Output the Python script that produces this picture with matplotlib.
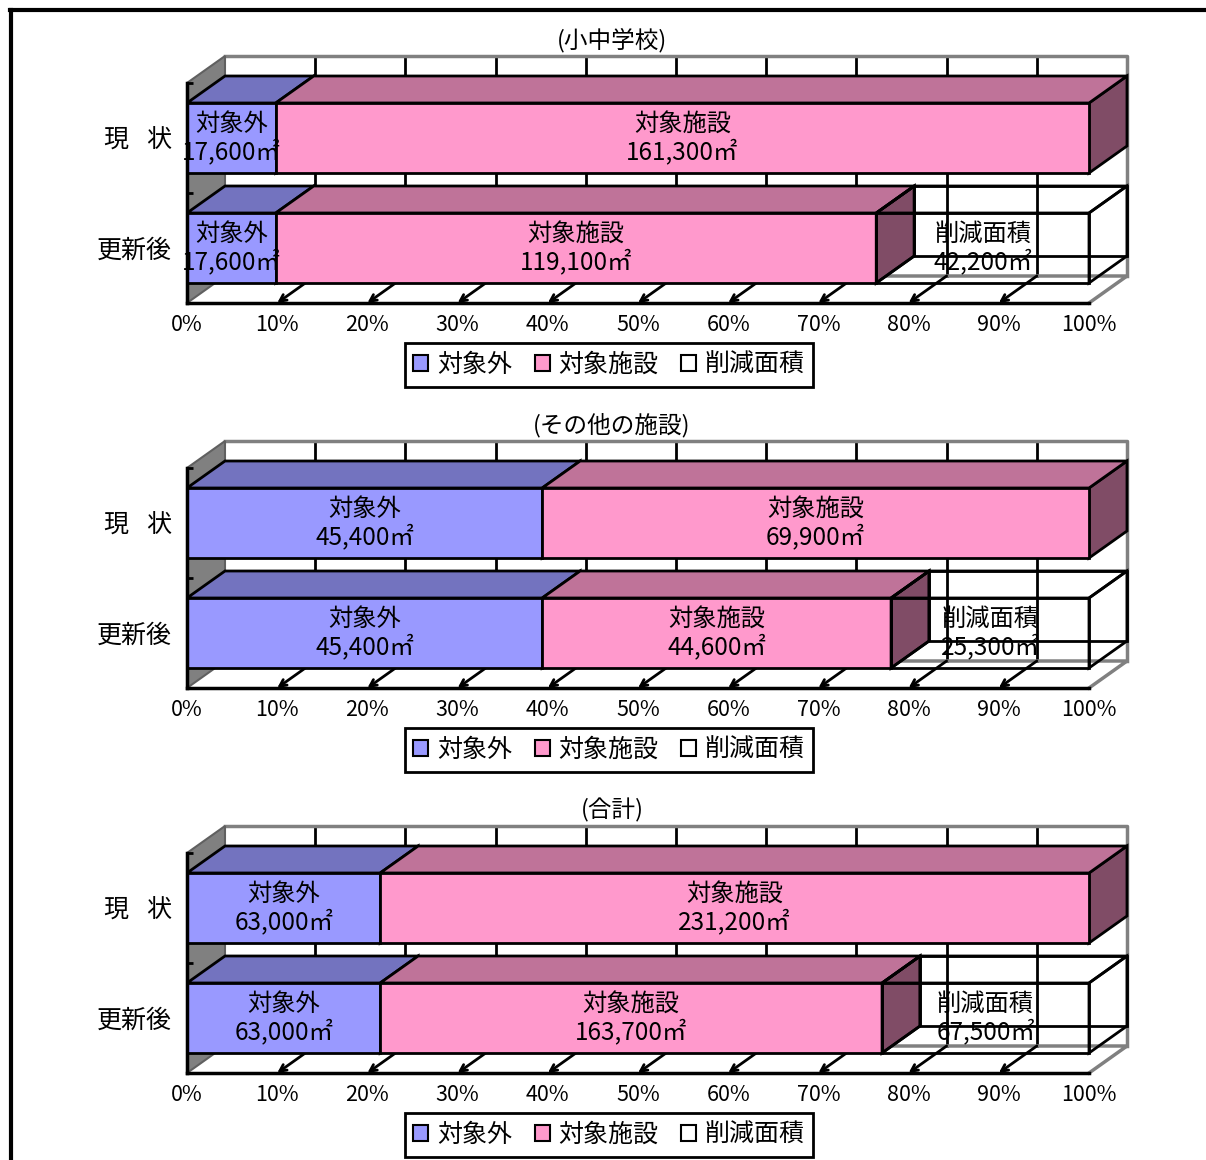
import matplotlib
matplotlib.use('Agg')
import matplotlib.pyplot as plt
from matplotlib.patches import Polygon, Patch
from matplotlib.lines import Line2D

plt.rcParams['font.family'] = ['Noto Sans CJK JP', 'DejaVu Sans']

# data (m2)
titles = ['(小中学校)', '(その他の施設)', '(合計)']
categories = ['更新後', '現\u2002 状']          # bottom -> top
series = ['対象外', '対象施設', '削減面積']
school_now = [17600, 161300, 0]
school_after = [17600, 119100, 42200]
other_now = [45400, 69900, 0]
other_after = [45400, 44600, 25300]
total_now = [63000, 231200, 0]
total_after = [63000, 163700, 67500]
panels = [(school_after, school_now), (other_after, other_now), (total_after, total_now)]
ticks = [0, 10, 20, 30, 40, 50, 60, 70, 80, 90, 100]
tick_labels = [f'{t}%' for t in ticks]

front_colors = ['#9999FF', '#FF99CC', 'none']
top_colors = ['#7373BF', '#BF7399', 'none']
side_colors = ['#5C5C99', '#804C66', 'none']
legend_colors = ['#9999FF', '#FF99CC', 'white']

W, H = 1206, 1160
DX = 38 / 902 * 100      # depth offset in % units
DY = 27 / 110            # depth offset in category units
HH = 35 / 110            # half bar height

fig = plt.figure(figsize=(W / 100, H / 100), dpi=100)

# outer frame
fig.add_artist(Line2D([10 / W, 1], [1 - 10 / H, 1 - 10 / H], color='black', lw=3, transform=fig.transFigure))
fig.add_artist(Line2D([11 / W, 11 / W], [1 - 10 / H, 0], color='black', lw=3, transform=fig.transFigure))


def poly(ax, pts, fc, z, ec='black', lw=2):
    ax.add_patch(Polygon(pts, closed=True, facecolor=fc, edgecolor=ec, lw=lw,
                         zorder=z, clip_on=False, joinstyle='miter'))


def box(ax, x0, x1, yc, k, z):
    y0, y1 = yc - HH, yc + HH
    top = [(x0, y1), (x1, y1), (x1 + DX, y1 + DY), (x0 + DX, y1 + DY)]
    front = [(x0, y0), (x1, y0), (x1, y1), (x0, y1)]
    side = [(x1, y0), (x1, y1), (x1 + DX, y1 + DY), (x1 + DX, y0 + DY)]
    if front_colors[k] == 'none':
        back = [(x0 + DX, y0 + DY), (x1 + DX, y0 + DY), (x1 + DX, y1 + DY), (x0 + DX, y1 + DY)]
        left = [(x0, y0), (x0, y1), (x0 + DX, y1 + DY), (x0 + DX, y0 + DY)]
        for f in (back, left, top, front, side):
            poly(ax, f, 'none', z)
    else:
        poly(ax, side, side_colors[k], z)
        poly(ax, top, top_colors[k], z + 0.1)
        poly(ax, front, front_colors[k], z + 0.2)


for i, (after, now) in enumerate(panels):
    oy = 385 * i
    ax = fig.add_axes([187 / W, 1 - (303 + oy) / H, 902 / W, 220 / H])
    ax.set_xlim(0, 100)
    ax.set_ylim(-0.5, 1.5)
    ax.patch.set_visible(False)

    fl = -0.5
    wt = 1.5
    # back wall
    poly(ax, [(DX, fl + DY), (100 + DX, fl + DY), (100 + DX, wt + DY), (DX, wt + DY)], 'white', 0.5, ec='none')
    for t in ticks[1:-1]:
        ax.plot([t + DX, t + DX], [fl + DY, wt + DY], color='black', lw=2, zorder=1, clip_on=False)
    ax.plot([DX, 100 + DX, 100 + DX], [wt + DY, wt + DY, fl + DY], color='#808080', lw=2.5, zorder=1, clip_on=False)
    # left side wall
    poly(ax, [(0, fl), (0, wt), (DX, wt + DY), (DX, fl + DY)], '#808080', 1, ec='#606060', lw=1.5)
    # floor
    poly(ax, [(0, fl), (100, fl), (100 + DX, fl + DY), (DX, fl + DY)], 'white', 0.6, ec='none')
    ax.plot([DX, 100 + DX, 100], [fl + DY, fl + DY, fl], color='#808080', lw=2.5, zorder=1, clip_on=False)
    for t in ticks[1:-1]:
        ax.annotate('', xy=(t, fl), xytext=(t + DX, fl + DY), annotation_clip=False,
                    arrowprops=dict(arrowstyle='->', lw=2, color='black', shrinkA=0, shrinkB=0,
                                    mutation_scale=12), zorder=1.5)

    # bars, top category (現状) first
    z = 3
    for c in (1, 0):
        vals = now if c == 1 else after
        total = sum(vals)
        left = 0
        for k, v in enumerate(vals):
            if v == 0:
                continue
            w = v / total * 100
            box(ax, left, left + w, c, k, z)
            z += 1
            ax.text(left + w / 2, c, f'{series[k]}\n{v:,}㎡', ha='center', va='center',
                    fontsize=17.5, linespacing=1.08, zorder=30)
            left += w

    # axes styling
    for s in ('top', 'right'):
        ax.spines[s].set_visible(False)
    ax.spines['bottom'].set_linewidth(2.5)
    ax.spines['left'].set_linewidth(2.5)
    ax.spines['bottom'].set_zorder(25)
    ax.spines['left'].set_zorder(25)
    ax.set_xticks(ticks)
    ax.set_xticklabels(tick_labels, fontsize=15.5)
    ax.tick_params(axis='x', length=0, pad=8)
    ax.set_yticks([0, 1])
    ax.set_yticklabels(categories, fontsize=18)
    ax.tick_params(axis='y', length=0, pad=11)
    ax.set_yticks([-0.5, 0.5, 1.5], minor=True)
    ax.tick_params(axis='y', which='minor', direction='in', length=4, width=2)

    fig.text(612 / W, 1 - (40 + oy) / H, titles[i], ha='center', va='center', fontsize=17)

    handles = [Patch(facecolor=legend_colors[k], edgecolor='black', lw=1.5) for k in range(3)]
    leg = fig.legend(handles, series, loc='center', bbox_to_anchor=(609 / W, 1 - (365 + oy) / H),
                     ncol=3, fontsize=18, frameon=True, fancybox=False, framealpha=1,
                     edgecolor='black', handlelength=0.6, handleheight=0.6, handletextpad=0.35,
                     columnspacing=0.9, borderpad=0.35, borderaxespad=0)
    leg.get_frame().set_linewidth(2)

fig.savefig('out.png', dpi=100)
